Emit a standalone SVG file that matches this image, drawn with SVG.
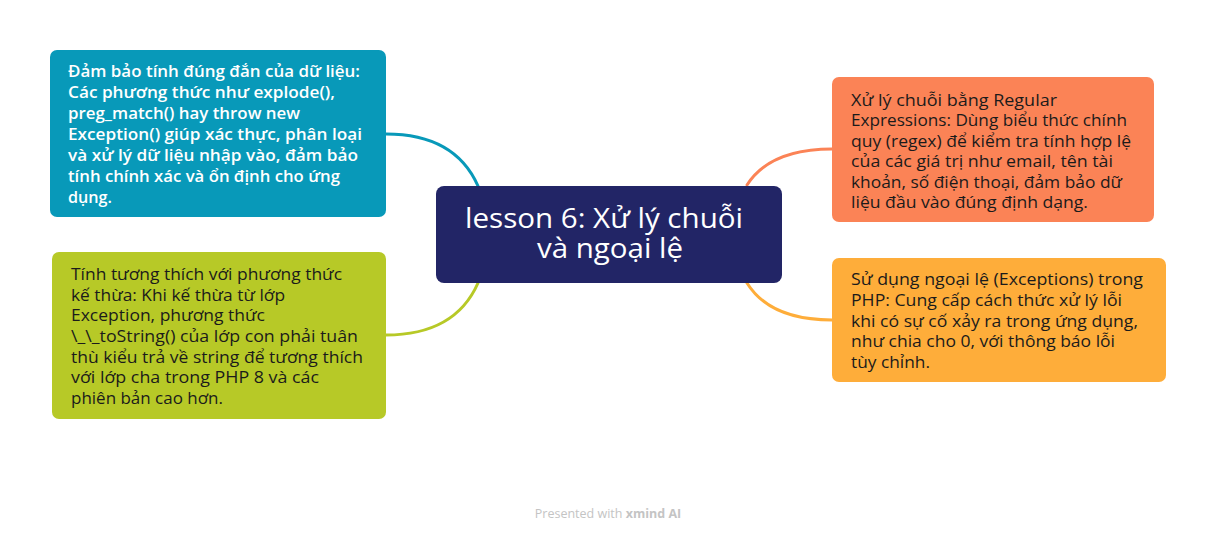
<svg xmlns="http://www.w3.org/2000/svg" width="1216" height="540" viewBox="0 0 1216 540">
<style>
.t{font-family:"Open Sans","Noto Sans","Liberation Sans",sans-serif;font-size:15.5px;}
.w{fill:#ffffff;font-weight:600;}
.d{fill:#1b1b1b;font-weight:500;}
.c{fill:none;stroke-width:3;stroke-linecap:round;}
</style>
<rect width="1216" height="540" fill="#ffffff"/>
<g id="connectors">
<path class="c" stroke="#0899b9" d="M386,134 Q455,134 478,186"/>
<path class="c" stroke="#b7c927" d="M386,335 Q455,335 478,283"/>
<path class="c" stroke="#fb8356" d="M832,149 Q770,149 747,185"/>
<path class="c" stroke="#fead3a" d="M832,320 Q770,320 747,283"/>
</g>
<g id="center">
<rect x="436" y="186" width="346" height="97" rx="8" fill="#222566"/>
<text font-family="Open Sans,Noto Sans,sans-serif" font-size="28" fill="#ffffff" text-anchor="middle" lengthAdjust="spacingAndGlyphs"><tspan x="604" y="228" textLength="278" lengthAdjust="spacingAndGlyphs">lesson 6: Xử lý chuỗi</tspan><tspan x="610" y="258" textLength="146" lengthAdjust="spacingAndGlyphs">và ngoại lệ</tspan></text>
</g>
<g id="node-blue">
<rect x="50" y="50" width="336" height="167" rx="7" fill="#0899b9"/>
<text class="t w"><tspan x="68" y="77" textLength="292" lengthAdjust="spacingAndGlyphs">Đảm bảo tính đúng đắn của dữ liệu:</tspan><tspan x="68" y="98" textLength="267" lengthAdjust="spacingAndGlyphs">Các phương thức như explode(),</tspan><tspan x="68" y="119" textLength="232" lengthAdjust="spacingAndGlyphs">preg_match() hay throw new</tspan><tspan x="68" y="140" textLength="294" lengthAdjust="spacingAndGlyphs">Exception() giúp xác thực, phân loại</tspan><tspan x="68" y="161" textLength="290" lengthAdjust="spacingAndGlyphs">và xử lý dữ liệu nhập vào, đảm bảo</tspan><tspan x="68" y="182" textLength="272" lengthAdjust="spacingAndGlyphs">tính chính xác và ổn định cho ứng</tspan><tspan x="68" y="203" textLength="44" lengthAdjust="spacingAndGlyphs">dụng.</tspan></text>
</g>
<g id="node-green">
<rect x="52" y="252" width="334" height="167" rx="7" fill="#b7c927"/>
<text class="t d"><tspan x="71" y="280" textLength="271" lengthAdjust="spacingAndGlyphs">Tính tương thích với phương thức</tspan><tspan x="71" y="300.7" textLength="214" lengthAdjust="spacingAndGlyphs">kế thừa: Khi kế thừa từ lớp</tspan><tspan x="71" y="321.3" textLength="194" lengthAdjust="spacingAndGlyphs">Exception, phương thức</tspan><tspan x="71" y="342" textLength="287" lengthAdjust="spacingAndGlyphs">\_\_toString() của lớp con phải tuân</tspan><tspan x="71" y="362.7" textLength="292" lengthAdjust="spacingAndGlyphs">thù kiểu trả về string để tương thích</tspan><tspan x="71" y="383.3" textLength="248" lengthAdjust="spacingAndGlyphs">với lớp cha trong PHP 8 và các</tspan><tspan x="71" y="404" textLength="152" lengthAdjust="spacingAndGlyphs">phiên bản cao hơn.</tspan></text>
</g>
<g id="node-orange">
<rect x="832" y="77" width="322" height="145" rx="7" fill="#fb8356"/>
<text class="t d"><tspan x="851" y="106" textLength="206" lengthAdjust="spacingAndGlyphs">Xử lý chuỗi bằng Regular</tspan><tspan x="851" y="126.4" textLength="276" lengthAdjust="spacingAndGlyphs">Expressions: Dùng biểu thức chính</tspan><tspan x="851" y="146.8" textLength="280" lengthAdjust="spacingAndGlyphs">quy (regex) để kiểm tra tính hợp lệ</tspan><tspan x="851" y="167.2" textLength="262" lengthAdjust="spacingAndGlyphs">của các giá trị như email, tên tài</tspan><tspan x="851" y="187.6" textLength="271" lengthAdjust="spacingAndGlyphs">khoản, số điện thoại, đảm bảo dữ</tspan><tspan x="851" y="208" textLength="237" lengthAdjust="spacingAndGlyphs">liệu đầu vào đúng định dạng.</tspan></text>
</g>
<g id="node-yellow">
<rect x="832" y="258" width="334" height="124" rx="7" fill="#fead3a"/>
<text class="t d"><tspan x="851" y="285" textLength="292" lengthAdjust="spacingAndGlyphs">Sử dụng ngoại lệ (Exceptions) trong</tspan><tspan x="851" y="305.8" textLength="271" lengthAdjust="spacingAndGlyphs">PHP: Cung cấp cách thức xử lý lỗi</tspan><tspan x="851" y="326.5" textLength="287" lengthAdjust="spacingAndGlyphs">khi có sự cố xảy ra trong ứng dụng,</tspan><tspan x="851" y="347.3" textLength="264" lengthAdjust="spacingAndGlyphs">như chia cho 0, với thông báo lỗi</tspan><tspan x="851" y="368" textLength="79" lengthAdjust="spacingAndGlyphs">tùy chỉnh.</tspan></text>
</g>
<text x="608" y="518" text-anchor="middle" font-family="Open Sans,Noto Sans,sans-serif" font-size="12.5" fill="#c4c4c4">Presented with <tspan font-weight="700">xmind AI</tspan></text>
</svg>
